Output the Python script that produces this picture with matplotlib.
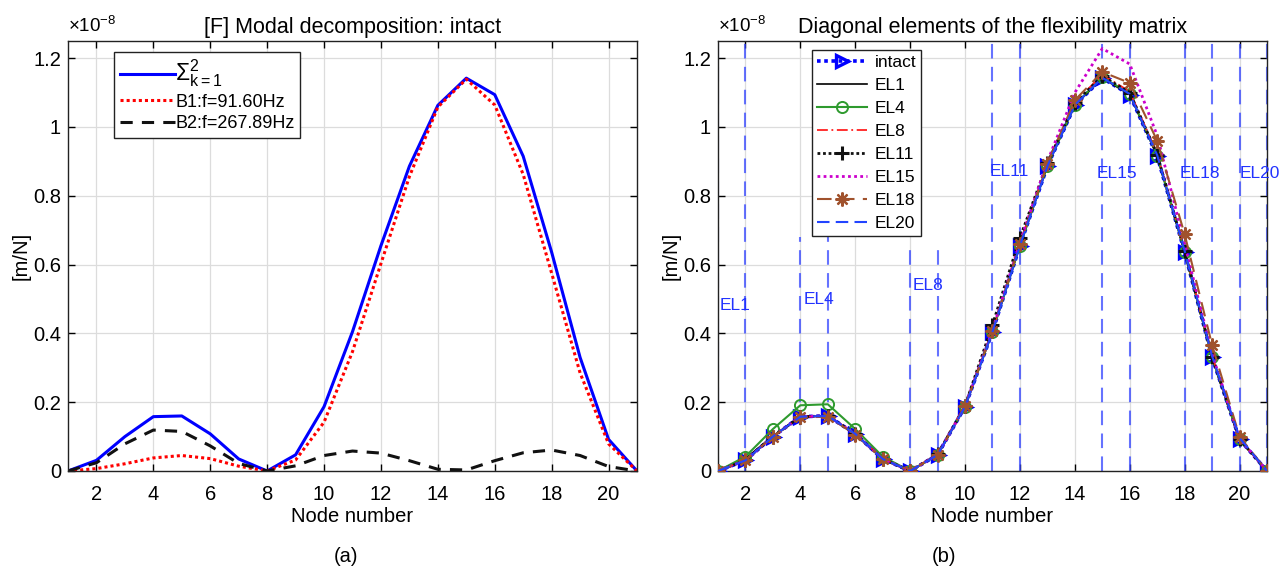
import numpy as np
import matplotlib.pyplot as plt
from matplotlib.ticker import FuncFormatter, MultipleLocator

plt.rcParams['font.family'] = ['Liberation Sans', 'DejaVu Sans']
plt.rcParams['mathtext.fontset'] = 'custom'
plt.rcParams['mathtext.rm'] = 'Liberation Sans'
plt.rcParams['mathtext.it'] = 'Liberation Sans'

nodes = np.arange(1, 22)

# diagonal flexibility, in units of 1e-8 m/N
flex_sum = [0, 0.031, 0.100, 0.158, 0.160, 0.108, 0.035, 0, 0.047, 0.187, 0.405,
            0.655, 0.886, 1.063, 1.142, 1.094, 0.915, 0.636, 0.330, 0.092, 0]
mode_b1 = [0, 0.007, 0.021, 0.038, 0.045, 0.036, 0.014, 0, 0.032, 0.142, 0.347,
           0.603, 0.856, 1.058, 1.139, 1.064, 0.862, 0.575, 0.285, 0.079, 0]
mode_b2 = [0, 0.024, 0.079, 0.119, 0.115, 0.073, 0.022, 0, 0.015, 0.045, 0.058,
           0.052, 0.030, 0.005, 0.003, 0.030, 0.053, 0.061, 0.045, 0.013, 0]
mode_labels = [r'$\Sigma_{k=1}^{2}$', 'B1:f=91.60Hz', 'B2:f=267.89Hz']

intact = flex_sum
el1 = [0, 0.036, 0.102, 0.158, 0.160, 0.108, 0.035, 0, 0.047, 0.187, 0.405,
       0.655, 0.886, 1.063, 1.142, 1.094, 0.915, 0.636, 0.330, 0.092, 0]
el4 = [0, 0.042, 0.122, 0.191, 0.194, 0.122, 0.042, 0, 0.047, 0.187, 0.405,
       0.655, 0.887, 1.065, 1.145, 1.097, 0.917, 0.637, 0.330, 0.092, 0]
el8 = [0, 0.031, 0.100, 0.157, 0.160, 0.108, 0.036, 0, 0.050, 0.192, 0.410,
       0.662, 0.893, 1.072, 1.152, 1.103, 0.923, 0.641, 0.334, 0.093, 0]
el11 = [0, 0.031, 0.100, 0.158, 0.160, 0.108, 0.035, 0, 0.048, 0.190, 0.425,
        0.678, 0.895, 1.070, 1.148, 1.100, 0.920, 0.640, 0.332, 0.092, 0]
el15 = [0, 0.031, 0.100, 0.158, 0.160, 0.108, 0.035, 0, 0.047, 0.188, 0.410,
        0.665, 0.900, 1.100, 1.228, 1.183, 0.975, 0.660, 0.340, 0.094, 0]
el18 = [0, 0.031, 0.100, 0.156, 0.158, 0.106, 0.035, 0, 0.047, 0.188, 0.408,
        0.660, 0.893, 1.078, 1.160, 1.128, 0.960, 0.688, 0.366, 0.100, 0]
el20 = [0, 0.031, 0.100, 0.158, 0.160, 0.108, 0.035, 0, 0.047, 0.187, 0.405,
        0.655, 0.886, 1.064, 1.143, 1.096, 0.918, 0.640, 0.334, 0.096, 0]

# damaged element number, its label and where the guide lines stop
dmg_elements = [1, 4, 8, 11, 15, 18, 20]
dmg_names = ['EL1', 'EL4', 'EL8', 'EL11', 'EL15', 'EL18', 'EL20']
dmg_line_top = [1.25, 0.68, 0.655, 1.25, 1.25, 1.25, 1.25]
dmg_text_y = [0.48, 0.50, 0.54, 0.87, 0.865, 0.865, 0.865]
dmg_text_x = [1.05, 4.12, 8.1, 10.9, 14.8, 17.8, 20.0]

fig = plt.figure(figsize=(12.87, 5.68), dpi=100)
ax1 = fig.add_axes([68 / 1287, 97 / 568, 569 / 1287, 430 / 568])
ax2 = fig.add_axes([718 / 1287, 97 / 568, 549 / 1287, 430 / 568])


def style_axes(ax, title):
    ax.set_xlim(1, 21)
    ax.set_ylim(0, 1.25)
    ax.xaxis.set_major_locator(MultipleLocator(2))
    ax.xaxis.set_major_formatter(FuncFormatter(lambda v, p: f'{v:g}' if 2 <= v <= 20 else ''))
    ax.yaxis.set_major_locator(MultipleLocator(0.2))
    ax.yaxis.set_major_formatter(FuncFormatter(lambda v, p: f'{v:.1f}'.rstrip('0').rstrip('.') if v else '0'))
    ax.grid(True, color='#dcdcdc', linewidth=0.9)
    ax.set_axisbelow(True)
    ax.tick_params(direction='in', top=True, right=True, length=5, width=1,
                   labelsize=14.5)
    ax.tick_params(axis='x', pad=10)
    ax.tick_params(axis='y', pad=5)
    for s in ax.spines.values():
        s.set_linewidth(1.0)
        s.set_color('#222222')
    ax.set_xlabel('Node number', fontsize=14.5, labelpad=2)
    ax.set_ylabel('[m/N]', fontsize=14.5, labelpad=2)
    ax.set_title(title, fontsize=15.5, pad=6)
    ax.text(0.0, 1.012, r'$\times10^{-8}$', transform=ax.transAxes,
            fontsize=13.5, ha='left', va='bottom')


# (a) modal contributions
ax1.plot(nodes, flex_sum, color='#0000ff', lw=2.2, label=mode_labels[0])
ax1.plot(nodes, mode_b1, color='#ff0000', lw=2.2, ls=(0, (1, 1)), label=mode_labels[1])
ax1.plot(nodes, mode_b2, color='#111111', lw=2.2, ls=(0, (4, 3)), label=mode_labels[2])
style_axes(ax1, '[F] Modal decomposition: intact')
leg1 = ax1.legend(loc='upper left', bbox_to_anchor=(0.081, 0.974), borderaxespad=0,
                  fontsize=13, handlelength=3.05, handletextpad=0.05, labelspacing=0.25,
                  borderpad=0.3, fancybox=False, framealpha=1, edgecolor='#222222')
leg1.get_frame().set_linewidth(1.0)
leg1.get_texts()[0].set_fontsize(16.5)

# (b) flexibility diagonal for each damage case
for k, name, top, tx, ty in zip(dmg_elements, dmg_names, dmg_line_top, dmg_text_x, dmg_text_y):
    for xn in (k, k + 1):
        ax2.plot([xn, xn], [0, top], color='#3344ff', lw=1.5, alpha=0.75,
                 ls=(0, (7, 4)), zorder=1)
    ax2.text(tx, ty, name, color='#2233ff', fontsize=12.5, ha='left',
             va='center', clip_on=False)

ax2.plot(nodes, intact, color='#0000ff', lw=2.6, ls=(0, (1, 1)), marker='>',
         ms=8, mfc='none', mew=2.4, label='intact', zorder=3)
ax2.plot(nodes, el1, color='black', lw=1.2, label='EL1', zorder=3)
ax2.plot(nodes, el4, color='#2e9a2e', lw=1.5, marker='o', ms=8, mfc='none',
         mew=1.4, label='EL4', zorder=3)
ax2.plot(nodes, el8, color='#ff2020', lw=1.3, ls=(0, (6, 2, 1, 2)), label='EL8', zorder=3)
ax2.plot(nodes, el11, color='#111111', lw=2.0, ls=(0, (1, 1)), marker='+',
         ms=10, mew=2.2, label='EL11', zorder=3)
ax2.plot(nodes, el15, color='#cc00cc', lw=2.0, ls=(0, (1, 1.2)), label='EL15', zorder=3)
ax2.plot(nodes, el18, color='#a0522d', lw=1.5, ls=(0, (7, 4)), marker=(8, 2, 0),
         ms=10, mew=1.6, label='EL18', zorder=3)
ax2.plot(nodes, el20, color='#2244ff', lw=1.5, ls=(0, (6, 3)), label='EL20', zorder=3)
style_axes(ax2, 'Diagonal elements of the flexibility matrix')
ax2.legend(loc='upper left', bbox_to_anchor=(0.171, 0.979), borderaxespad=0,
           fontsize=12.5, handlelength=2.9, handletextpad=0.4, labelspacing=0.45,
           borderpad=0.3, fancybox=False, framealpha=1,
           edgecolor='#222222').get_frame().set_linewidth(1.0)

fig.text(346 / 1287, 11 / 568, '(a)', fontsize=14.5, ha='center', va='center')
fig.text(944 / 1287, 11 / 568, '(b)', fontsize=14.5, ha='center', va='center')

fig.savefig('out.png', dpi=100)
